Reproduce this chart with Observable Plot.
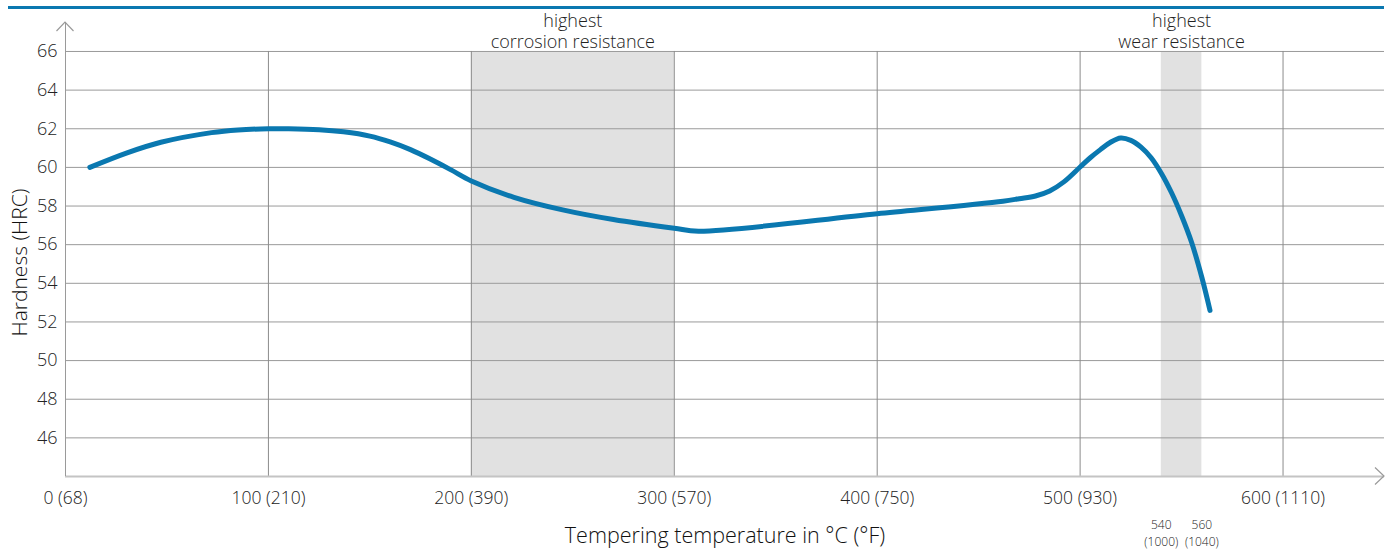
<!DOCTYPE html>
<html>
<head>
<meta charset="utf-8">
<script src="https://cdn.jsdelivr.net/npm/d3@7"></script>
<script src="https://cdn.jsdelivr.net/npm/@observablehq/plot@0.6"></script>
<style>
  html, body { margin: 0; padding: 0; background: #fff; }
  #wrap { position: relative; width: 1394px; height: 549px; }
  #rule { position: absolute; left: 8px; top: 6px; width: 1376px; height: 3px; background: #0a78b0; }
  svg { font-family: "Open Sans", Lato, sans-serif; font-weight: 300; }
</style>
</head>
<body>
<div id="wrap"><div id="rule"></div></div>
<script>
// Curve data: tempering temperature (°C) vs hardness (HRC)
const temps    = [12, 30, 47, 72, 85, 100, 110, 125, 137, 150, 160, 170, 180, 190, 200, 221, 245, 270, 300, 312, 400, 462, 470, 478, 485, 492, 500, 505, 510, 515, 520, 525, 530, 535, 540, 545, 550, 555, 560, 564];
const hardness = [60.0, 60.74, 61.3, 61.8, 61.94, 62.0, 62.0, 61.95, 61.84, 61.62, 61.32, 60.92, 60.42, 59.87, 59.3, 58.45, 57.8, 57.3, 56.85, 56.7, 57.6, 58.25, 58.38, 58.52, 58.78, 59.25, 60.02, 60.5, 60.92, 61.3, 61.52, 61.4, 61.05, 60.5, 59.7, 58.7, 57.5, 56.1, 54.3, 52.6];

// Axis ticks
const xTicks = [0, 100, 200, 300, 400, 500, 600];
const xTickLabels = ["0 (68)", "100 (210)", "200 (390)", "300 (570)", "400 (750)", "500 (930)", "600 (1110)"];
const yTicks = [46, 48, 50, 52, 54, 56, 58, 60, 62, 64, 66];

// Shaded ranges
const bandStart = [200, 540];
const bandEnd   = [300, 560];
const bandLabels = ["highest\ncorrosion resistance", "highest\nwear resistance"];
const bandEdgeTicks = [540, 560];
const bandEdgeLabels = ["540\n(1000)", "560\n(1040)"];

const xTitle = "Tempering temperature in °C (°F)";
const yTitle = "Hardness (HRC)";

const curve = temps.map((t, i) => ({t, h: hardness[i]}));
const bands = bandStart.map((s, i) => ({s, e: bandEnd[i], mid: (s + bandEnd[i]) / 2, label: bandLabels[i]}));
const edges = bandEdgeTicks.map((t, i) => ({t, label: bandEdgeLabels[i]}));

const yMin = 44, yMax = 67.5, gridTop = 66;

const chart = Plot.plot({
  width: 1394,
  height: 549,
  marginLeft: 65,
  marginRight: 10,
  marginTop: 22,
  marginBottom: 73,
  x: {domain: [0, 650]},
  y: {domain: [yMin, yMax]},
  marks: [
    Plot.rectX(bands, {x1: "s", x2: "e", y1: yMin, y2: gridTop, fill: "#e1e1e1"}),
    Plot.ruleY(yTicks, {stroke: "#9a9a9a", strokeWidth: 1}),
    Plot.ruleX(xTicks.filter(d => d > 0), {y1: yMin, y2: gridTop, stroke: "#8c8c8c", strokeWidth: 1}),
    Plot.ruleY([yMin], {stroke: "#c4c4c4", strokeWidth: 2}),
    Plot.ruleX([0], {stroke: "#9a9a9a", strokeWidth: 1}),
    Plot.line(curve, {x: "t", y: "h", stroke: "#0a78b0", strokeWidth: 5, curve: "catmull-rom"}),
    Plot.axisX(xTicks, {tickSize: 0, tickPadding: 15, fontSize: 17.5, fill: "#222", tickFormat: (d) => xTickLabels[xTicks.indexOf(d)]}),
    Plot.axisY(yTicks, {tickSize: 0, tickPadding: 8, fontSize: 18, fill: "#222", label: null}),
    Plot.text(bands, {x: "mid", text: "label", frameAnchor: "top", lineAnchor: "top", dy: -11, fontSize: 18, fill: "#222", lineHeight: 1.2}),
    Plot.text(edges, {x: "t", text: "label", frameAnchor: "bottom", lineAnchor: "top", dy: 41, fontSize: 12, fill: "#222", lineHeight: 1.4}),
    Plot.text([xTitle], {frameAnchor: "bottom", lineAnchor: "middle", dy: 60, fontSize: 21.5, fill: "#111"}),
    Plot.text([yTitle], {frameAnchor: "left", textAnchor: "middle", rotate: -90, dx: -45, dy: 13, fontSize: 21, fill: "#111"})
  ]
});

// Arrowheads on the axes, placed with the chart's own scales
const sx = chart.scale("x"), sy = chart.scale("y");
const svg = d3.select(chart);
const x0 = sx.apply(0), yTop = sy.apply(yMax);
const xEnd = sx.apply(650), yBot = sy.apply(yMin);
svg.append("path")
  .attr("d", `M${x0 - 8.5},${yTop + 9}L${x0},${yTop}L${x0 + 8.5},${yTop + 9}`)
  .attr("fill", "none").attr("stroke", "#9a9a9a").attr("stroke-width", 1.2);
svg.append("path")
  .attr("d", `M${xEnd - 9},${yBot - 8.5}L${xEnd},${yBot}L${xEnd - 9},${yBot + 8.5}`)
  .attr("fill", "none").attr("stroke", "#9a9a9a").attr("stroke-width", 1.2);

document.getElementById("wrap").appendChild(chart);
chart.style.position = "absolute";
chart.style.left = "0";
chart.style.top = "0";
</script>
</body>
</html>
